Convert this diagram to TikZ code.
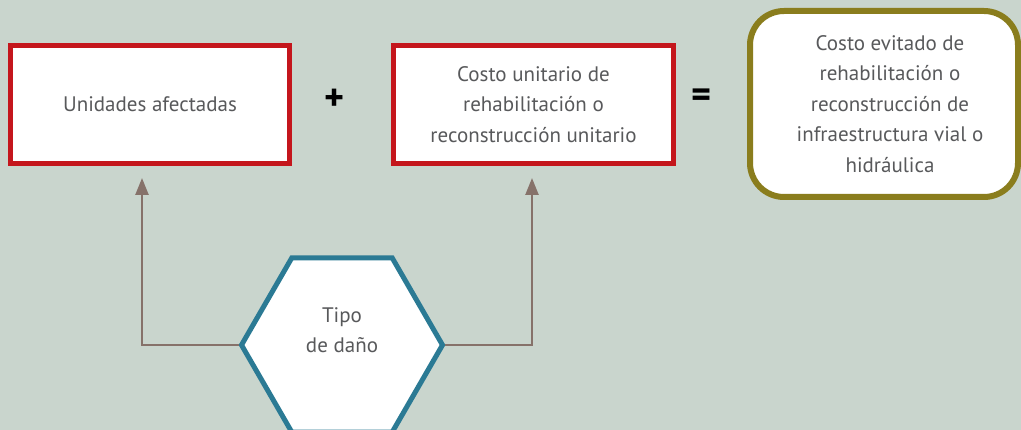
\documentclass[tikz,border=0pt]{standalone}
\usepackage{fontspec}
\setmainfont{PT Sans}
\usetikzlibrary{shapes.geometric, arrows.meta}
\definecolor{fondo}{HTML}{C9D5CD}
\definecolor{rojo}{HTML}{C4161C}
\definecolor{oliva}{HTML}{8A7D1D}
\definecolor{azul}{HTML}{2B7A94}
\definecolor{flechacol}{HTML}{86726A}
\definecolor{texto}{HTML}{58595B}

\begin{document}
\begin{tikzpicture}[x=1pt, y=-1pt,
  every node/.style={font=\fontsize{21}{30.5}\selectfont, text=texto, align=center},
  caja/.style={draw=rojo, line width=5pt, fill=white, minimum width=279pt, minimum height=118pt, inner sep=0pt},
  signo/.style={text=black, font=\fontsize{38}{38}\selectfont\bfseries},
  flecha/.style={draw=flechacol, line width=2.5pt, -{Triangle[length=17pt, width=13pt]}}]
\fill [fondo] (0,0) rectangle (1021,430);
\useasboundingbox (0,0) rectangle (1021,430);

\node[caja] (unidades) at (150,104.5) {Unidades afectadas};
\node[signo] (mas) at (335,100) {+};
\node[caja, minimum width=280pt] (costo) at (533.5,104.5) {Costo unitario de\\rehabilitación o\\reconstrucción unitario};
\node[signo] (igual) at (702,98) {=};
\node[draw=oliva, line width=6pt, fill=white, rounded corners=34pt, minimum width=268pt, minimum height=186pt] (evitado) at (884,104)
  {\hspace*{12pt}Costo evitado de\\\hspace*{12pt}rehabilitación o\\\hspace*{12pt}reconstrucción de\\\hspace*{12pt}infraestructura vial o\\\hspace*{12pt}hidráulica};

\node[regular polygon, regular polygon sides=6, draw=azul, line width=5pt, fill=white, minimum size=201pt, text depth=30pt] (dano) at (342,345) {Tipo\\de daño};

\draw[flecha] (dano.west) -| ([xshift=-8pt, yshift=-12pt]unidades.south);
\draw[flecha] (dano.east) -| ([xshift=-1.5pt, yshift=-12pt]costo.south);
\end{tikzpicture}
\end{document}
